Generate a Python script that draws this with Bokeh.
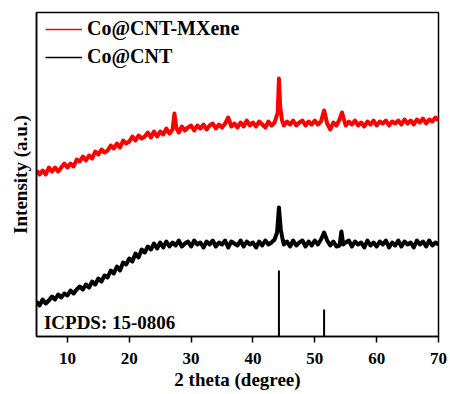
from bokeh.plotting import figure
from bokeh.models import Range1d, Legend, LegendItem, Label, FixedTicker
from bokeh.embed import file_html
from bokeh.resources import INLINE

# ---- data ----
red_x = [5.0, 5.5, 6.0, 6.5, 7.0, 7.5, 8.0, 8.5, 9.0, 9.5, 10.0, 10.5, 11.0, 11.5, 12.0, 12.5,
         13.0, 13.5, 14.0, 14.5, 15.0, 15.5, 16.0, 16.5, 17.0, 17.5, 18.0, 18.5, 19.0, 19.5,
         20.0, 20.5, 21.0, 21.5, 22.0, 22.5, 23.0, 23.5, 24.0, 24.5, 25.0, 25.5, 26.0, 26.5,
         27.0, 27.3, 27.6, 28.0, 28.5, 29.0, 29.5, 30.0, 30.5, 31.0, 31.5, 32.0, 32.5, 33.0,
         33.5, 34.0, 34.5, 35.0, 35.5, 36.0, 36.5, 37.0, 37.5, 38.0, 38.5, 39.0, 39.5, 40.0,
         40.5, 41.0, 41.5, 42.0, 42.5, 43.0, 43.5, 44.0, 44.2, 44.4, 44.7, 45.0, 45.5, 46.0,
         46.5, 47.0, 47.5, 48.0, 48.5, 49.0, 49.5, 50.0, 50.5, 51.0, 51.5, 52.0, 52.5, 53.0,
         53.5, 54.0, 54.4, 54.8, 55.0, 55.5, 56.0, 56.5, 57.0, 57.5, 58.0, 58.5, 59.0, 59.5,
         60.0, 60.5, 61.0, 61.5, 62.0, 62.5, 63.0, 63.5, 64.0, 64.5, 65.0, 65.5, 66.0, 66.5,
         67.0, 67.5, 68.0, 68.5, 69.0, 69.5, 70.0]
red_y = [166, 162, 166, 162, 169, 165, 169, 165, 169, 173, 169, 173, 170, 177, 175, 180,
         176, 181, 178, 185, 182, 187, 184, 186, 191, 188, 193, 189, 196, 193,
         195, 200, 196, 201, 198, 200, 204, 199, 205, 200, 205, 202, 208, 203,
         207, 223, 209, 204, 210, 206, 209, 211, 206, 211, 208, 212, 207, 211,
         213, 208, 212, 209, 213, 219, 210, 213, 209, 214, 210, 216, 211, 214,
         210, 215, 212, 209, 215, 211, 214, 224, 258, 230, 216, 211, 215, 212,
         216, 211, 214, 216, 211, 215, 212, 216, 212, 215, 226, 213, 207, 214,
         211, 217, 224, 215, 211, 215, 212, 216, 211, 214, 210, 215, 212, 216,
         211, 215, 213, 216, 211, 215, 213, 216, 212, 217, 213, 216, 212, 217,
         214, 218, 213, 217, 215, 219, 216]

black_x = [5.0, 5.5, 6.0, 6.5, 7.0, 7.5, 8.0, 8.5, 9.0, 9.5, 10.0, 10.5, 11.0, 11.5, 12.0, 12.5,
           13.0, 13.5, 14.0, 14.5, 15.0, 15.5, 16.0, 16.5, 17.0, 17.5, 18.0, 18.5, 19.0, 19.5,
           20.0, 20.5, 21.0, 21.5, 22.0, 22.5, 23.0, 23.5, 24.0, 24.5, 25.0, 25.5, 26.0, 26.5,
           27.0, 27.5, 28.0, 28.5, 29.0, 29.5, 30.0, 30.5, 31.0, 31.5, 32.0, 32.5, 33.0, 33.5,
           34.0, 34.5, 35.0, 35.5, 36.0, 36.5, 37.0, 37.5, 38.0, 38.5, 39.0, 39.5, 40.0, 40.5,
           41.0, 41.5, 42.0, 42.5, 43.0, 43.5, 43.9, 44.2, 44.5, 44.8, 45.0, 45.5, 46.0, 46.5,
           47.0, 47.5, 48.0, 48.5, 49.0, 49.5, 50.0, 50.5, 51.0, 51.5, 52.0, 52.5, 53.0, 53.5,
           54.0, 54.3, 54.6, 55.0, 55.5, 56.0, 56.5, 57.0, 57.5, 58.0, 58.5, 59.0, 59.5, 60.0,
           60.5, 61.0, 61.5, 62.0, 62.5, 63.0, 63.5, 64.0, 64.5, 65.0, 65.5, 66.0, 66.5, 67.0,
           67.5, 68.0, 68.5, 69.0, 69.5, 70.0]
black_y = [35, 31, 37, 33, 36, 40, 37, 42, 39, 43, 41, 46, 43, 47, 50, 47,
           52, 49, 55, 52, 58, 55, 61, 59, 66, 63, 70, 66, 74, 72,
           78, 75, 83, 79, 87, 84, 90, 87, 93, 88, 94, 89, 95, 90,
           94, 91, 96, 90, 93, 95, 90, 96, 92, 94, 89, 95, 92, 96,
           90, 94, 92, 96, 89, 95, 93, 91, 96, 90, 95, 92, 94, 89,
           95, 91, 96, 92, 94, 97, 104, 129, 107, 97, 92, 95, 90, 96,
           91, 94, 96, 90, 95, 91, 96, 92, 97, 104, 96, 91, 95, 90,
           91, 105, 92, 94, 96, 90, 95, 92, 94, 89, 96, 91, 94, 90,
           95, 92, 96, 89, 94, 91, 96, 90, 95, 92, 94, 89, 96, 92,
           95, 90, 96, 91, 94, 92]

ref_pos = [44.2, 51.5]
ref_height = [66, 27]

x_ticks = [10, 20, 30, 40, 50, 60, 70]

SERIF = "Liberation Serif"

p = figure(width=450, height=394, output_backend="svg", toolbar_location=None,
           x_range=Range1d(5, 70), y_range=Range1d(0, 324),
           min_border_left=36, min_border_right=12, min_border_top=12, min_border_bottom=58)

p.grid.visible = False
p.outline_line_color = "black"
p.outline_line_width = 1.5

p.line(red_x, red_y, line_color="#ff0000", line_width=4, line_join="round")
p.line(black_x, black_y, line_color="black", line_width=4, line_join="round")
p.segment(x0=ref_pos, y0=[0, 0], x1=ref_pos, y1=ref_height, line_color="black", line_width=2)

# thin lines for the legend keys (placed outside the visible range)
leg_red = p.line([-10, -9], [0, 0], line_color="#ff0000", line_width=1.5)
leg_black = p.line([-10, -9], [0, 0], line_color="black", line_width=1.5)

# x axis
xa = p.xaxis[0]
xa.ticker = FixedTicker(ticks=x_ticks)
xa.minor_tick_line_color = None
xa.major_tick_in = 0
xa.major_tick_out = 6
xa.major_tick_line_width = 1.5
xa.axis_line_width = 1.5
xa.major_label_text_font = SERIF
xa.major_label_text_font_style = "bold"
xa.major_label_text_font_size = "17px"
xa.major_label_text_color = "black"
xa.major_label_standoff = 10
xa.axis_label = "2 theta (degree)"
xa.axis_label_text_font = SERIF
xa.axis_label_text_font_style = "bold"
xa.axis_label_text_font_size = "19px"
xa.axis_label_text_color = "black"
xa.axis_label_standoff = 2

# y axis
ya = p.yaxis[0]
ya.ticker = FixedTicker(ticks=[])
ya.major_tick_line_color = None
ya.minor_tick_line_color = None
ya.major_label_standoff = 0
ya.axis_line_width = 1.5
ya.axis_label = "Intensity (a.u.)"
ya.axis_label_text_font = SERIF
ya.axis_label_text_font_style = "bold"
ya.axis_label_text_font_size = "19px"
ya.axis_label_text_color = "black"
ya.axis_label_standoff = 6

p.add_layout(Label(x=6.2, y=14, text="ICPDS: 15-0806", text_font=SERIF, text_font_style="bold",
                   text_font_size="19px", text_baseline="middle", text_color="black"))

legend = Legend(items=[LegendItem(label="Co@CNT-MXene", renderers=[leg_red]),
                       LegendItem(label="Co@CNT", renderers=[leg_black])],
                location=(9, 268), padding=0, margin=0, spacing=5,
                glyph_width=37, glyph_height=20, label_height=20, label_standoff=5,
                label_text_font=SERIF, label_text_font_style="bold", label_text_font_size="20px",
                label_text_color="black",
                border_line_color=None, background_fill_alpha=0)
p.add_layout(legend)

open("out.html", "w").write(file_html(p, INLINE))
